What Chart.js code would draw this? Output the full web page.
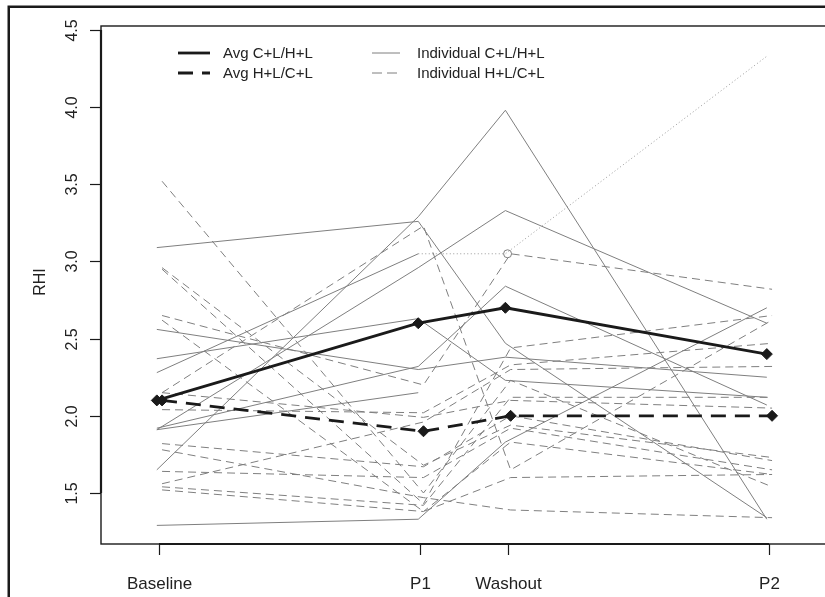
<!DOCTYPE html>
<html><head><meta charset="utf-8">
<script src="https://cdn.jsdelivr.net/npm/chart.js@4.4.1/dist/chart.umd.min.js"></script>
<style>
html,body{margin:0;padding:0;background:#fff;overflow:hidden;width:825px;height:597px}
#wrap{position:relative;width:825px;height:597px;overflow:hidden}
canvas{position:absolute;left:0;top:0}
</style></head>
<body><div id="wrap"><canvas id="c" width="1000" height="700"></canvas></div>
<script>
// ---- data ----
const categories = ['Baseline', 'P1', 'Washout', 'P2'];
const timePoints = [0, 6, 8, 14];
const yTicks = [1.5, 2.0, 2.5, 3.0, 3.5, 4.0, 4.5];
const yTickLabels = ['1.5', '2.0', '2.5', '3.0', '3.5', '4.0', '4.5'];
const yTitle = 'RHI';
const legendLabels = ['Avg C+L/H+L', 'Avg H+L/C+L', 'Individual C+L/H+L', 'Individual H+L/C+L'];

const avgCL = [2.10, 2.60, 2.70, 2.40];
const avgHL = [2.10, 1.90, 2.00, 2.00];

const indivCL = [
  [1.29, 1.33, 1.83, 2.70],
  [2.56, 2.30, 2.38, 2.25],
  [2.37, 2.63, 2.23, 2.12],
  [1.91, 2.96, 3.33, 2.60],
  [1.91, 2.15, null, null],
  [3.09, 3.26, 2.47, 1.34],
  [1.65, 3.29, 3.98, 1.33],
  [2.28, 3.05, null, null],
  [1.92, 2.32, 2.84, 2.07]
];
const dottedCL = [null, 3.05, 3.05, 4.33];
const openPointHL = [null, null, 3.05, null];

const indivHL = [
  [3.52, 1.50, 2.23, 1.54],
  [2.96, 1.68, 1.94, 1.73],
  [2.95, 1.43, 2.44, 2.65],
  [2.65, 2.20, 3.05, 2.82],
  [2.62, 1.38, 1.60, 1.62],
  [2.15, 3.23, 1.65, 2.62],
  [2.15, 1.99, 2.10, 2.05],
  [2.04, 2.02, 2.33, 2.47],
  [1.82, 1.67, 2.00, 1.71],
  [1.78, 1.47, 1.39, 1.34],
  [1.64, 1.60, 1.92, 1.65],
  [1.56, 1.96, 2.30, 2.32],
  [1.54, 1.42, 2.12, 2.12],
  [1.52, 1.38, 1.83, 1.62]
];

// ---- styling ----
const shiftCL = -0.05, shiftHL = 0.07;
const GRAY = '#7f7f7f', BLACK = '#1a1a1a';
const FONT = '"Liberation Sans", Arial, Helvetica, sans-serif';

function pts(vals, shift) {
  return vals.map((v, i) => ({ x: timePoints[i] + shift, y: v }));
}

const datasets = [];
datasets.push({ data: pts(avgCL, shiftCL), borderColor: BLACK, borderWidth: 2.8, order: 0,
  pointStyle: 'rectRot', pointRadius: 5.5, pointBorderWidth: 1, pointBackgroundColor: BLACK, pointBorderColor: BLACK });
datasets.push({ data: pts(avgHL, shiftHL), borderColor: BLACK, borderWidth: 2.8, borderDash: [15, 9], order: 0,
  pointStyle: 'rectRot', pointRadius: 5.5, pointBorderWidth: 1, pointBackgroundColor: BLACK, pointBorderColor: BLACK });
indivCL.forEach(s => datasets.push({ data: pts(s, shiftCL), borderColor: GRAY, borderWidth: 1, pointRadius: 0, order: 1 }));
indivHL.forEach(s => datasets.push({ data: pts(s, shiftHL), borderColor: GRAY, borderWidth: 1, borderDash: [8, 5], pointRadius: 0, order: 1 }));
datasets.push({ data: pts(dottedCL, shiftCL), borderColor: '#9a9a9a', borderWidth: 1, borderDash: [1, 2.5], pointRadius: 0, order: 1 });
datasets.push({ data: pts(openPointHL, 0), showLine: false, pointStyle: 'circle', pointRadius: 4, pointBorderWidth: 1,
  pointBorderColor: '#808080', pointBackgroundColor: 'rgba(255,255,255,0)', order: 1 });

const rPlot = {
  id: 'rPlot',
  beforeDraw(chart) {
    const ctx = chart.ctx;
    ctx.save();
    ctx.fillStyle = '#fff';
    ctx.fillRect(0, 0, chart.width, chart.height);
    ctx.strokeStyle = BLACK;
    ctx.lineWidth = 2.5;
    ctx.strokeRect(8.75, 6.75, 2000, 2000);
    ctx.restore();
  },
  afterDatasetsDraw(chart) {
    const ctx = chart.ctx, a = chart.chartArea;
    const xs = chart.scales.x, ys = chart.scales.y;
    ctx.save();
    ctx.strokeStyle = BLACK;
    ctx.fillStyle = '#222';
    // plot box
    ctx.lineWidth = 1.4;
    ctx.strokeRect(a.left, a.top, a.right - a.left + 500, a.bottom - a.top);
    // x axis
    ctx.lineWidth = 2.2;
    ctx.beginPath();
    ctx.moveTo(xs.getPixelForValue(timePoints[0]), a.bottom);
    ctx.lineTo(xs.getPixelForValue(timePoints[timePoints.length - 1]), a.bottom);
    ctx.stroke();
    ctx.lineWidth = 1.2;
    ctx.font = '17px ' + FONT;
    ctx.textAlign = 'center';
    ctx.textBaseline = 'alphabetic';
    timePoints.forEach((t, i) => {
      const px = Math.round(xs.getPixelForValue(t)) + 0.5;
      ctx.beginPath(); ctx.moveTo(px, a.bottom); ctx.lineTo(px, a.bottom + 11); ctx.stroke();
      ctx.fillText(categories[i], px, 589);
    });
    // y axis
    ctx.lineWidth = 2.2;
    ctx.beginPath();
    ctx.moveTo(a.left, ys.getPixelForValue(yTicks[0]));
    ctx.lineTo(a.left, ys.getPixelForValue(yTicks[yTicks.length - 1]));
    ctx.stroke();
    ctx.lineWidth = 1.2;
    ctx.font = '16px ' + FONT;
    yTicks.forEach((v, i) => {
      const py = Math.round(ys.getPixelForValue(v)) + 0.5;
      ctx.beginPath(); ctx.moveTo(a.left, py); ctx.lineTo(a.left - 11, py); ctx.stroke();
      ctx.save();
      ctx.translate(77, py);
      ctx.rotate(-Math.PI / 2);
      ctx.textAlign = 'center';
      ctx.fillText(yTickLabels[i], 0, 0);
      ctx.restore();
    });
    ctx.save();
    ctx.translate(45, 282);
    ctx.rotate(-Math.PI / 2);
    ctx.textAlign = 'center';
    ctx.font = '16px ' + FONT;
    ctx.fillText(yTitle, 0, 0);
    ctx.restore();
    // legend
    const items = [
      { x1: 178, x2: 210, y: 53, c: BLACK, w: 2.8, d: [], tx: 223 },
      { x1: 178, x2: 210, y: 73, c: BLACK, w: 2.8, d: [15, 9], tx: 223 },
      { x1: 372, x2: 400, y: 53, c: GRAY, w: 1, d: [], tx: 417 },
      { x1: 372, x2: 400, y: 73, c: GRAY, w: 1, d: [10, 5], tx: 417 }
    ];
    ctx.font = '15px ' + FONT;
    ctx.textAlign = 'left';
    ctx.textBaseline = 'middle';
    items.forEach((it, i) => {
      ctx.strokeStyle = it.c; ctx.lineWidth = it.w; ctx.setLineDash(it.d);
      ctx.beginPath(); ctx.moveTo(it.x1, it.y); ctx.lineTo(it.x2, it.y); ctx.stroke();
      ctx.setLineDash([]);
      ctx.fillStyle = '#222';
      ctx.fillText(legendLabels[i], it.tx, it.y + 1);
    });
    ctx.restore();
  }
};

// scale geometry: x(0)=159px, x(14)=769px ; y(4.5)=30px, y(1.5)=493px
new Chart(document.getElementById('c'), {
  type: 'line',
  data: { datasets },
  options: {
    responsive: false,
    devicePixelRatio: 1,
    animation: false,
    events: [],
    layout: { padding: { left: 101, top: 26, right: 10, bottom: 156 } },
    scales: {
      x: { type: 'linear', display: false, min: -1.3311, max: 19.072 },
      y: { type: 'linear', display: false, min: 1.1695, max: 4.5259 }
    },
    elements: { line: { tension: 0, borderCapStyle: 'butt' } },
    plugins: { legend: { display: false }, tooltip: { enabled: false } }
  },
  plugins: [rPlot]
});
</script>
</body></html>
